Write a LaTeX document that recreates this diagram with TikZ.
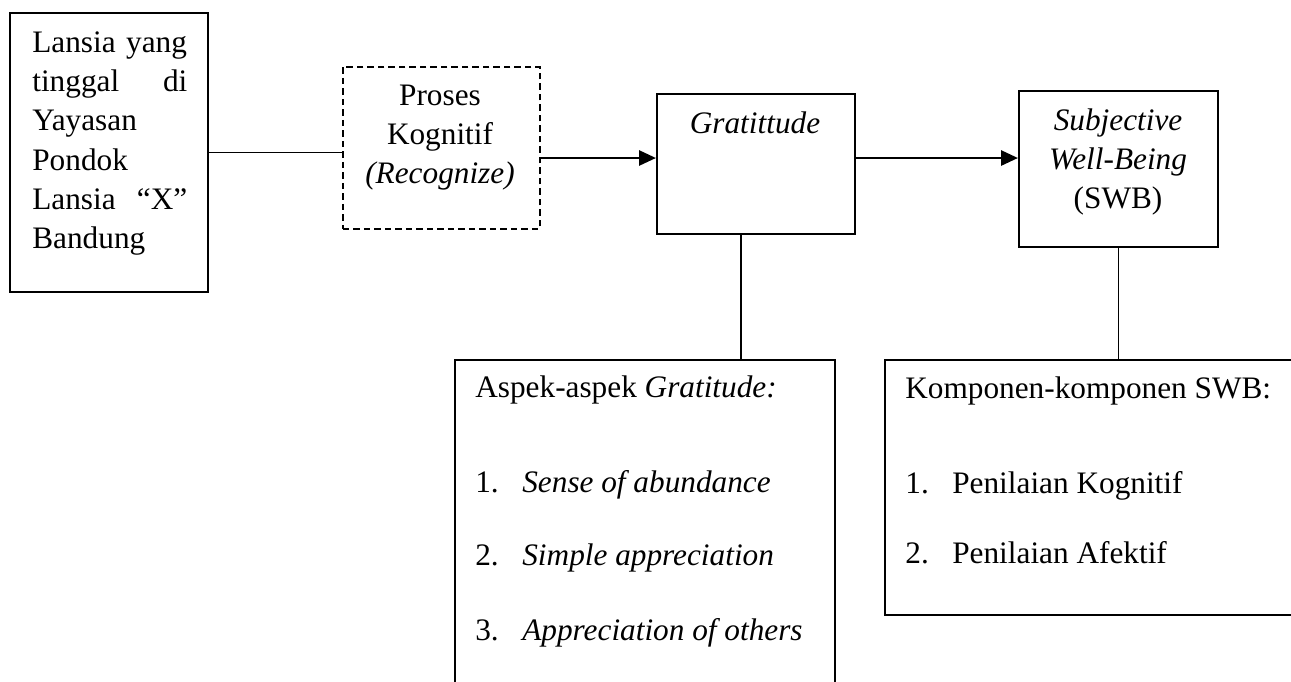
\documentclass[tikz,border=0pt]{standalone}
\usepackage{fontspec}
\setmainfont{Liberation Serif}
\usetikzlibrary{arrows.meta}

\tikzset{
  box/.style={draw,line width=1.1pt,inner sep=0pt,anchor=north west},
  txt/.style={inner sep=0pt,font=\fontsize{17.8}{22.4}\selectfont},
  link/.style={line width=0.75pt},
  flow/.style={line width=1.6pt,-{Triangle[length=0.34cm,width=0.3cm]}}
}

\begin{document}
\begin{tikzpicture}[x=0.02cm,y=-0.02cm]
        \useasboundingbox (0,0) rectangle (1291,681);
        \clip (0,0) rectangle (1291,681);
        % boxes
        \node[box,minimum width=3.96cm,minimum height=5.58cm] (lansia) at (9,12) {};
        \node[box,dashed,dash pattern=on 0.13cm off 0.08cm,minimum width=3.94cm,minimum height=3.24cm] (proses) at (342,66) {};
        \node[box,minimum width=3.96cm,minimum height=2.8cm] (grat) at (656,93) {};
        \node[box,minimum width=3.98cm,minimum height=3.12cm] (swb) at (1018,90) {};
        \node[box,minimum width=7.6cm,minimum height=8cm] (aspek) at (454,359) {};
        \node[box,minimum width=9cm,minimum height=5.1cm] (komp) at (884,359) {};
        % texts
        \node[txt,anchor=base west,text width=3.1cm,align=left] (lansiatext) at (32,52)
           {Lansia yang\\ tinggal\hfill di\\ Yayasan\\ Pondok\\ Lansia\hfill ``X''\\ Bandung};
        \node[txt,anchor=base,text width=3.8cm,align=center] (prosestext) at (440,105)
           {Proses\\ Kognitif\\ \textit{(Recognize)}};
        \node[txt,anchor=base] (grattext) at (755,133) {\textit{Gratittude}};
        \node[txt,anchor=base,text width=3.8cm,align=center] (swbtext) at (1118,130)
           {\textit{Subjective}\\ \textit{Well-Being}\\ (SWB)};
        \node[txt,anchor=base west] (aspekhead) at (475,397) {Aspek-aspek \textit{Gratitude:}};
        \node[txt,anchor=base west] (aspek1) at (475,492) {\makebox[0.94cm][l]{1.}\textit{Sense of abundance}};
        \node[txt,anchor=base west] (aspek2) at (475,565) {\makebox[0.94cm][l]{2.}\textit{Simple appreciation}};
        \node[txt,anchor=base west] (aspek3) at (475,640) {\makebox[0.94cm][l]{3.}\textit{Appreciation of others}};
        \node[txt,anchor=base west] (komphead) at (905,398) {Komponen-komponen SWB:};
        \node[txt,anchor=base west] (komp1) at (905,493) {\makebox[0.94cm][l]{1.}Penilaian Kognitif};
        \node[txt,anchor=base west] (komp2) at (905,563) {\makebox[0.94cm][l]{2.}Penilaian Afektif};
        % connectors
        \coordinate (row) at (0,158);
        \draw[link] (lansia.east) -- (proses.west |- lansia.east);
        \draw[flow] (proses.east |- row) -- (grat.west |- row);
        \draw[flow] (grat.east |- row) -- (swb.west |- row);
        \draw[link] ([xshift=-0.3cm]grat.south) -- ([xshift=-0.3cm]grat.south |- aspek.north);
        \draw[link] (swb.south) -- (swb.south |- komp.north);
      \end{tikzpicture}
\end{document}
